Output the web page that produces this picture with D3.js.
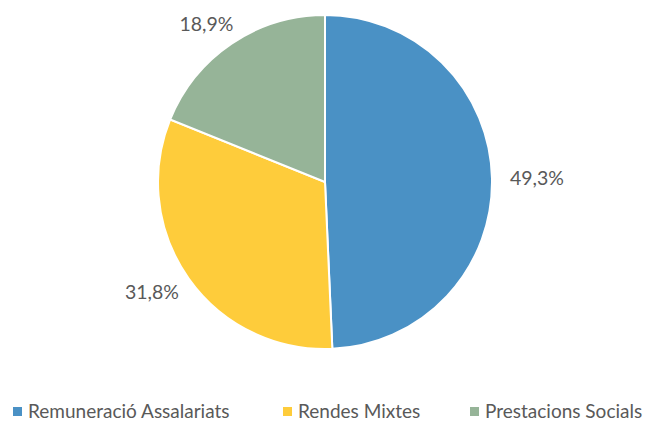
<!DOCTYPE html>
<html>
<meta charset="utf-8">
<head>
  <script src="https://d3js.org/d3.v7.min.js"></script>
  <style>
    body { margin: 0; background: #fff; }
    text { font-family: Lato, "Open Sans", sans-serif; fill: #595959; }
  </style>
</head>
<body>
<script>
  // data
  var categories = ["Remuneració Assalariats", "Rendes Mixtes", "Prestacions Socials"];
  var values = [49.3, 31.8, 18.9];
  var colors = ["#4a91c5", "#fecc3b", "#96b498"];

  var width = 646, height = 423;
  var cx = 325, cy = 182, radius = 167;

  var svg = d3.select("body").append("svg")
      .attr("width", width)
      .attr("height", height);

  var pie = d3.pie().sort(null).value(function(d) { return d; });
  var arcs = pie(values);

  var arc = d3.arc().innerRadius(0).outerRadius(radius);

  var g = svg.append("g").attr("transform", "translate(" + cx + "," + cy + ")");

  g.selectAll("path")
    .data(arcs)
    .enter()
    .append("path")
    .attr("d", arc)
    .attr("fill", function(d, i) { return colors[i]; })
    .attr("stroke", "#fff")
    .attr("stroke-width", 2);

  // outside-end labels, placed a bit flatter vertically like excel does
  var lrx = 212, lry = 190;
  g.selectAll(".lbl")
    .data(arcs)
    .enter()
    .append("text")
    .attr("class", "lbl")
    .attr("x", function(d) { return lrx * Math.sin((d.startAngle + d.endAngle) / 2); })
    .attr("y", function(d) { return -lry * Math.cos((d.startAngle + d.endAngle) / 2); })
    .attr("text-anchor", "middle")
    .attr("dy", "0.35em")
    .style("font-size", "19.5px")
    .text(function(d) { return d3.format(".1f")(d.data).replace(".", ",") + "%"; });

  // legend
  var legendX = [13, 283, 470];
  var legend = svg.append("g").selectAll("g")
    .data(categories)
    .enter()
    .append("g")
    .attr("transform", function(d, i) { return "translate(" + legendX[i] + ",411)"; });

  legend.append("rect")
    .attr("x", 0).attr("y", -4)
    .attr("width", 9).attr("height", 9)
    .attr("fill", function(d, i) { return colors[i]; });

  legend.append("text")
    .attr("x", 15)
    .attr("dy", "0.35em")
    .style("font-size", "19px")
    .text(function(d) { return d; });
</script>
</body>
</html>
